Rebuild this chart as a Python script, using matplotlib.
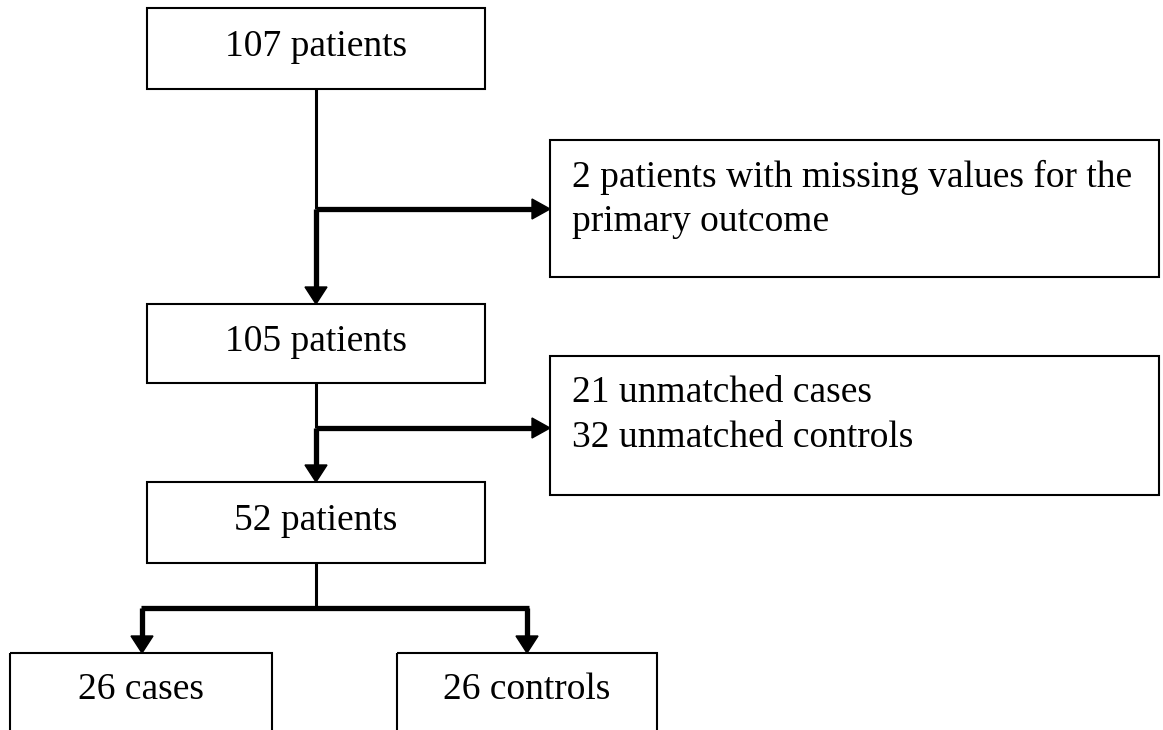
import matplotlib.pyplot as plt
from matplotlib.patches import Rectangle, Polygon

# flow chart content
main_labels = ['107 patients', '105 patients', '52 patients']
side_labels = [['2 patients with missing values for the', 'primary outcome'],
               ['21 unmatched cases', '32 unmatched controls']]
split_labels = ['26 cases', '26 controls']

W, H = 1163, 730
fig = plt.figure(figsize=(W / 100, H / 100), dpi=100)
ax = fig.add_axes([0, 0, 1, 1])
ax.set_xlim(0, W)
ax.set_ylim(H, 0)
ax.axis('off')

font = dict(family='Liberation Serif', fontsize=27, color='black')


def box(x0, y0, x1, y1):
    ax.add_patch(Rectangle((x0, y0), x1 - x0, y1 - y0, fill=False,
                           edgecolor='black', linewidth=1.5))


def line(xs, ys, lw):
    ax.plot(xs, ys, color='black', linewidth=lw, solid_capstyle='butt')


def head_down(x, y):
    ax.add_patch(Polygon([(x - 11, y - 17), (x + 11, y - 17), (x, y)],
                         color='black'))


def head_right(x, y):
    ax.add_patch(Polygon([(x - 18, y - 10), (x - 18, y + 10), (x, y)],
                         color='black'))


# main column
mx0, mx1, cx = 147, 485, 316
main_y = [(8, 89), (304, 383), (482, 563)]
for lab, (y0, y1) in zip(main_labels, main_y):
    box(mx0, y0, mx1, y1)
    ax.text(cx, (y0 + y1) / 2 - 2, lab, ha='center', va='center', **font)

# side boxes for exclusions
side_y = [(140, 277), (356, 495)]
branch_y = [209, 428]
for i, (lines, (y0, y1)) in enumerate(zip(side_labels, side_y)):
    box(550, y0, 1159, y1)
    for j, t in enumerate(lines):
        ax.text(572, y0 + 37 + j * 45, t, ha='left', va='center', **font)
    top = main_y[i][1]
    nxt = main_y[i + 1][0]
    by = branch_y[i]
    line([cx, cx], [top, by], 2.2)
    line([cx, cx], [by, nxt - 15], 3.8)
    head_down(cx, nxt)
    line([cx, 533], [by, by], 3.8)
    head_right(550, by)

# final split
split_x = [(10, 272), (397, 657)]
arrow_x = [142, 527]
sy = 608
line([cx, cx], [main_y[2][1], sy], 2.2)
line([arrow_x[0] - 1.5, arrow_x[1] + 1.5], [sy, sy], 3.8)
for lab, (x0, x1), axx in zip(split_labels, split_x, arrow_x):
    box(x0, 653, x1, 760)
    line([axx, axx], [sy, 638], 3.8)
    head_down(axx, 653)
    ax.text((x0 + x1) / 2, 690, lab, ha='center', va='center', **font)

fig.savefig('out.png', dpi=100)
